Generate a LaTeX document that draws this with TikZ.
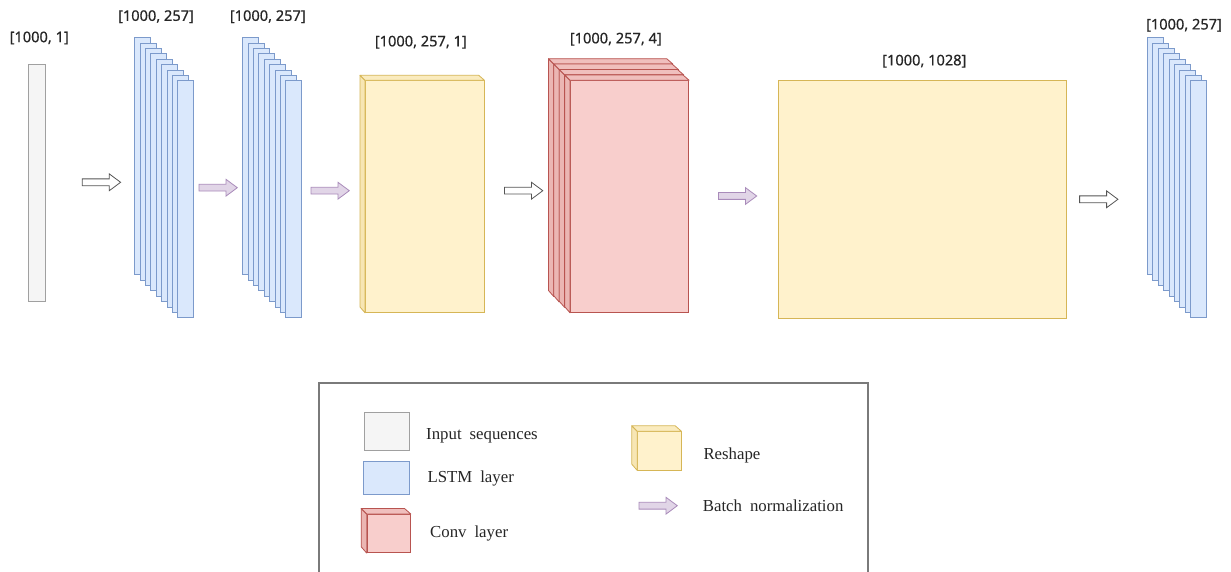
\documentclass[tikz,border=0pt]{standalone}
\usepackage{fontspec}
\setmainfont{Liberation Serif}[WordSpace=1.9]
\newfontfamily\labfont{Noto Sans}[FakeBold=0.6]
\definecolor{gfill}{HTML}{F5F5F5}\definecolor{gline}{HTML}{A0A0A0}
\definecolor{bfill}{HTML}{DAE8FC}\definecolor{bline}{HTML}{7C9ACB}
\definecolor{yfill}{HTML}{FFF2CC}\definecolor{yline}{HTML}{D6B656}
\definecolor{rfill}{HTML}{F8CECC}\definecolor{rline}{HTML}{B85450}
\definecolor{pfill}{HTML}{E1D5E7}\definecolor{pline}{HTML}{A98BBA}
\definecolor{wline}{HTML}{555555}
\definecolor{frame}{HTML}{7A7A7A}
\colorlet{yside}{yfill!80!yline}\colorlet{ytop}{yfill!88!yline}
\colorlet{rside}{rfill!80!rline}\colorlet{rtop}{rfill!88!rline}
\newcommand\mycube[7]{%
  \node[draw=#7line, fill=#7fill, line width=0.8pt, inner sep=0pt,
        minimum width=#4pt, minimum height=#5pt, anchor=north west] (#1) at (#2,#3) {};
  \draw[draw=#7line, fill=#7side, line width=0.8pt, line join=round]
    (#1.north west) -- ++(-#6,-#6) -- ++(0,#5) -- (#1.south west) -- cycle;
  \draw[draw=#7line, fill=#7top, line width=0.8pt, line join=round]
    (#1.north west) -- ++(-#6,-#6) -- ++(#4,0) -- (#1.north east) -- cycle;
}
\newcommand\blockarrow[3]{%
  \draw[#3, line width=0.8pt, line join=miter]
    (#1,#2) ++(0,-3.4) -- ++(27,0) -- ++(0,-5) -- ++(11.3,8.4) -- ++(-11.3,8.4)
    -- ++(0,-5) -- ++(-27,0) -- cycle;
}
\tikzset{
  lstm/.style={draw=bline, fill=bfill, line width=0.7pt, inner sep=0pt,
               minimum width=16pt, minimum height=237pt, anchor=north west},
  lab/.style={font=\labfont\fontsize{14.6}{18}\selectfont, inner sep=0pt, text=black!85},
  leg/.style={font=\fontsize{16.8}{20}\selectfont, inner sep=0pt, anchor=base west, text=black!85},
  bn/.style={draw=pline, fill=pfill},
  plain/.style={draw=wline, fill=white},
}
\begin{document}
\begin{tikzpicture}[x=1pt,y=-1pt]
\useasboundingbox (0,0) rectangle (1231,572);
\fill[white] (0,0) rectangle (1231,572);

% input
\node[draw=gline, fill=gfill, line width=0.9pt, inner sep=0pt, minimum width=17pt,
      minimum height=236.7pt, anchor=north west] (inp) at (28.3,64.3) {};

% LSTM stacks
\foreach \s/\bx in {la/134.3, lb/242.3, lc/1147} {
  \foreach \i in {0,...,8} {
    \pgfmathsetmacro\px{\bx+5.375*\i}
    \pgfmathsetmacro\py{37.3+5.375*\i}
    \node[lstm] (\s\i) at (\px,\py) {};
  }
}

% reshape
\mycube{rs}{365}{80.3}{118.7}{231.7}{5}{y}

% conv stack
\foreach \i in {3,2,1,0} {
  \pgfmathsetmacro\cx{570-5.4*\i}
  \pgfmathsetmacro\cy{80.3-5.4*\i}
  \mycube{cv\i}{\cx}{\cy}{118.3}{231.7}{5.4}{r}
}

% flatten
\node[draw=yline, fill=yfill, line width=0.8pt, inner sep=0pt, minimum width=288pt,
      minimum height=237pt, anchor=north west] (fl) at (778,80.5) {};

% arrows
\blockarrow{82.3}{182.3}{plain}
\blockarrow{199}{187.7}{bn}
\blockarrow{311}{190.7}{bn}
\blockarrow{504.5}{190.7}{plain}
\blockarrow{718.4}{196}{bn}
\blockarrow{1079.6}{199.3}{plain}

% labels
\node[lab] (t0) at (39.2,38) {[1000, 1]};
\node[lab] (t1) at (156,16.7) {[1000, 257]};
\node[lab] (t2) at (267.8,16.7) {[1000, 257]};
\node[lab] (t3) at (420.8,42.2) {[1000, 257, 1]};
\node[lab] (t4) at (615.8,39.2) {[1000, 257, 4]};
\node[lab] (t5) at (924.3,61.2) {[1000, 1028]};
\node[lab] (t6) at (1184,25.3) {[1000, 257]};

% legend frame
\draw[draw=frame, line width=2pt] (319.3,574) -- (319.3,382.7) -- (867.7,382.7) -- (867.7,574);

% legend items
\node[draw=gline, fill=gfill, line width=0.9pt, inner sep=0pt, minimum width=45.3pt,
      minimum height=38pt, anchor=north west] (kin) at (364,412.3) {};
\node[draw=bline, fill=bfill, line width=0.8pt, inner sep=0pt, minimum width=45.4pt,
      minimum height=32.7pt, anchor=north west] (kls) at (363.3,461) {};
\mycube{kcv}{366.7}{514}{43.3}{38.3}{5.5}{r}
\mycube{krs}{637.3}{431.3}{43.4}{38.4}{5.5}{y}
\blockarrow{639}{505.7}{bn}

\node[leg] (lin) at (426,439) {Input sequences};
\node[leg] (lls) at (427.3,482) {LSTM layer};
\node[leg] (lcv) at (430,537.7) {Conv layer};
\node[leg] (lrs) at (703.3,459.7) {Reshape};
\node[leg] (lbn) at (702.7,511.3) {Batch normalization};
\end{tikzpicture}
\end{document}
